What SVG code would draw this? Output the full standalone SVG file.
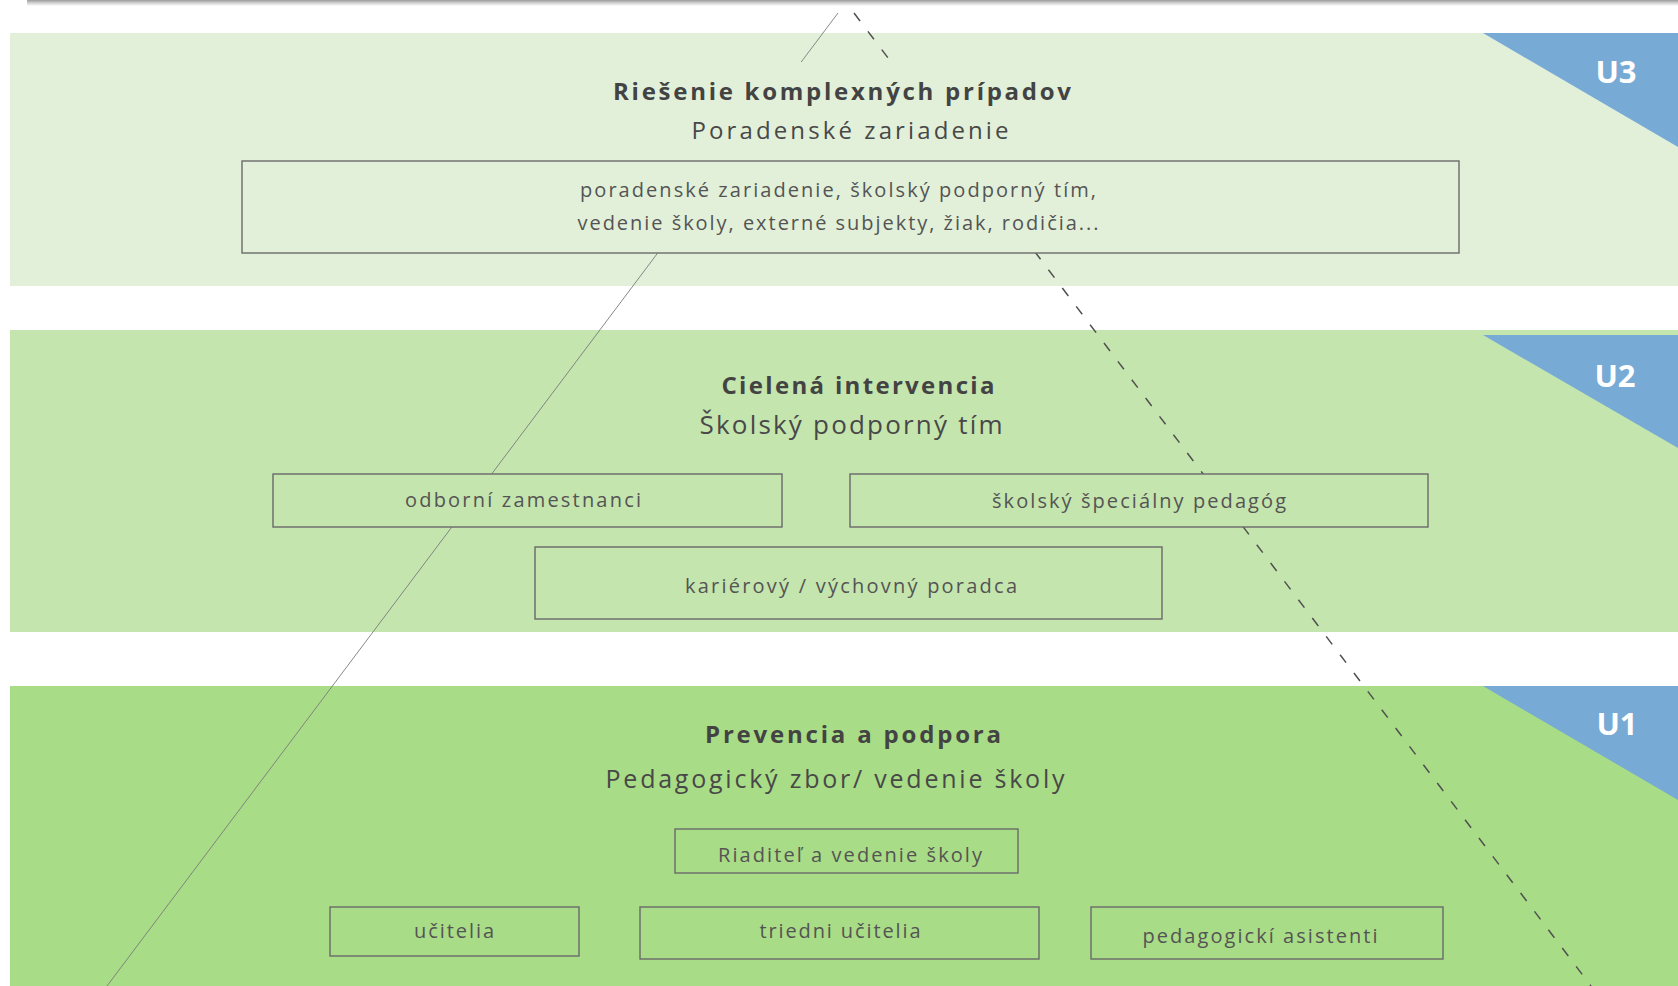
<svg xmlns="http://www.w3.org/2000/svg" width="1678" height="986" viewBox="0 0 1678 986">
<defs>
<linearGradient id="topShade" x1="0" y1="0" x2="0" y2="1">
<stop offset="0" stop-color="#9a9a9a"/>
<stop offset="0.4" stop-color="#c8c8c8"/>
<stop offset="1" stop-color="#ffffff"/>
</linearGradient>
<style>
.b3{fill:#E2F0D9}
.b2{fill:#C5E5AE}
.b1{fill:#A9DC86}
.tri{fill:#77AAD4}
.box{stroke:#6a6a6a;stroke-width:1.4}
.t{font-family:"Open Sans","Noto Sans","Liberation Sans",sans-serif;text-anchor:middle}
.title{font-size:24px;font-weight:bold;fill:#434343}
.sub{font-size:24px;fill:#484848}
.lbl{font-size:20px;fill:#545454}
.u{font-size:31px;font-weight:bold;fill:#ffffff}
.solid{stroke:#7a7a7a;stroke-width:0.9;fill:none}
.dash{stroke:#505050;stroke-width:1.5;stroke-dasharray:10 13;fill:none}
</style>
</defs>
<rect width="1678" height="986" fill="#ffffff"/>
<rect x="27" y="0" width="1651" height="6" fill="url(#topShade)"/>

<g id="bands">
<rect class="b3" x="10" y="33" width="1668" height="253"/>
<rect class="b2" x="10" y="330" width="1668" height="302"/>
<rect class="b1" x="10" y="686" width="1668" height="300"/>
<polygon class="tri" points="1483,33 1678,33 1678,147"/>
<polygon class="tri" points="1483,335 1678,335 1678,448"/>
<polygon class="tri" points="1483,686 1678,686 1678,800"/>
</g>

<g id="connectors">
<line class="solid" x1="838" y1="13" x2="107" y2="986"/>
<line class="dash" x1="854" y1="13" x2="1591" y2="986"/>
</g>

<g id="level-U3">
<rect class="b3" x="600" y="62" width="500" height="99"/>
<text class="t title" x="842" y="100" textLength="458" lengthAdjust="spacing">Riešenie komplexných prípadov</text>
<text class="t sub" x="850" y="139" textLength="317" lengthAdjust="spacing">Poradenské zariadenie</text>
<text class="t u" x="1616" y="83">U3</text>
</g>
<g id="node-u3-box">
<rect class="b3 box" x="242" y="161" width="1217" height="92"/>
<text class="t lbl" x="838" y="197" textLength="516" lengthAdjust="spacing">poradenské zariadenie, školský podporný tím,</text>
<text class="t lbl" x="838" y="230" textLength="521" lengthAdjust="spacing">vedenie školy, externé subjekty, žiak, rodičia...</text>
</g>

<g id="level-U2">
<text class="t title" x="858" y="394" textLength="273" lengthAdjust="spacing">Cielená intervencia</text>
<text class="t sub" x="851" y="434" textLength="303" lengthAdjust="spacing" style="font-size:26px">Školský podporný tím</text>
<text class="t u" x="1615" y="387">U2</text>
</g>
<g id="node-odborni">
<rect class="b2 box" x="273" y="474" width="509" height="53"/>
<text class="t lbl" x="523" y="507" textLength="236" lengthAdjust="spacing">odborní zamestnanci</text>
</g>
<g id="node-specialny">
<rect class="b2 box" x="850" y="474" width="578" height="53"/>
<text class="t lbl" x="1139" y="508" textLength="294" lengthAdjust="spacing">školský špeciálny pedagóg</text>
</g>
<g id="node-karierovy">
<rect class="b2 box" x="535" y="547" width="627" height="72"/>
<text class="t lbl" x="851" y="593" textLength="332" lengthAdjust="spacing">kariérový / výchovný poradca</text>
</g>

<g id="level-U1">
<text class="t title" x="853" y="743" textLength="296" lengthAdjust="spacing">Prevencia a podpora</text>
<text class="t sub" x="835" y="788" textLength="459" lengthAdjust="spacing" style="font-size:25px">Pedagogický zbor/ vedenie školy</text>
<text class="t u" x="1617" y="735">U1</text>
</g>
<g id="node-riaditel">
<rect class="b1 box" x="675" y="829" width="343" height="44"/>
<text class="t lbl" x="850" y="862" textLength="264" lengthAdjust="spacing">Riaditeľ a vedenie školy</text>
</g>
<g id="node-ucitelia">
<rect class="b1 box" x="330" y="907" width="249" height="49"/>
<text class="t lbl" x="454" y="938" textLength="80" lengthAdjust="spacing">učitelia</text>
</g>
<g id="node-triedni">
<rect class="b1 box" x="640" y="907" width="399" height="52"/>
<text class="t lbl" x="840" y="938" textLength="161" lengthAdjust="spacing">triedni učitelia</text>
</g>
<g id="node-asistenti">
<rect class="b1 box" x="1091" y="907" width="352" height="52"/>
<text class="t lbl" x="1260" y="943" textLength="235" lengthAdjust="spacing">pedagogickí asistenti</text>
</g>
</svg>
